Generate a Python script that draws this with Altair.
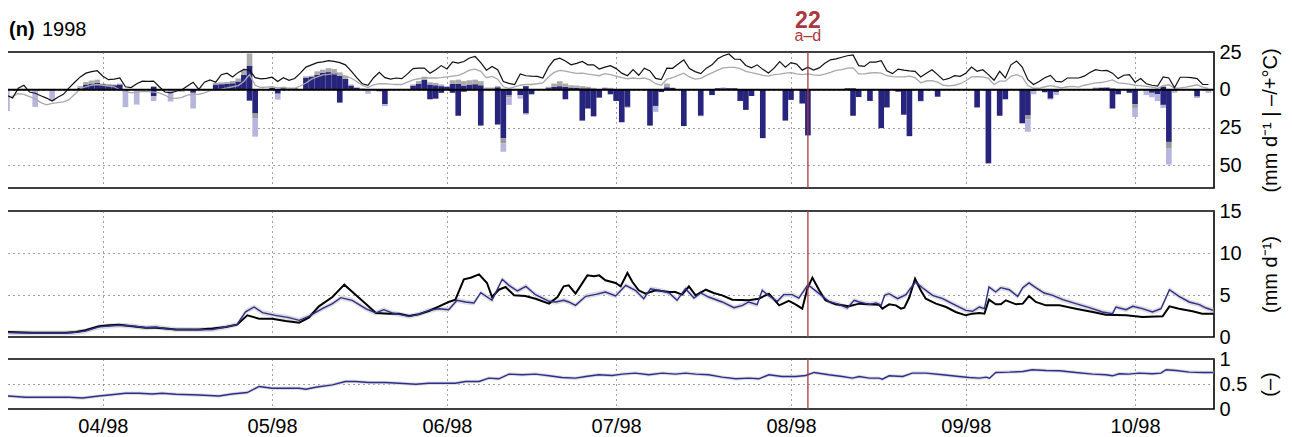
import altair as alt
import pandas as pd

FONT = "Liberation Sans"
N_DAYS = 214                      # day 0 = 15 Mar 1998
month_days = [17, 47, 78, 108, 139, 170, 200]
month_labels = ["04/98", "05/98", "06/98", "07/98", "08/98", "09/98", "10/98"]
marker_day = 142                  # 4 Aug 1998
marker_label = "22"
marker_sub = "a\u2013d"
panel_tag = "(n)"
panel_year = "1998"

# daily max / mean air temperature (deg C), days 0..213
tmax = [-3.7, -5.5, 1, 3, -1.5, -2.3, -4, -5.5, -7.4, -5, -3, 1.3, 5, 8.5, 11, 12, 12.6, 9, 6.7, 7,
        7.8, 2, 1.5, 4, 5.7, 5.5, 5.7, 2, -1.5, -2, -1, 0, 2.5, 5, 0.2, 5,
        6.5, 5, 10, 11, 8.5, 11.5, 13.5, 13, 8, 7.2, 7.5, 8.3, 5.5, 8, 6.2, 7.5, 11, 15, 16.5, 18,
        18.5, 19.3, 18.8, 18, 16.5, 12.5, 8, 4, 3, 8, 11.5, 8, 7, 7.8, 7.4, 10.5,
        14, 14.3, 14.3, 11, 13.3, 16, 13.8, 18.5, 17.6, 18.7, 21, 22, 18, 13, 15.4, 13.3, 5.5, 4.2,
        3.5, 10.5, 9.3, 9, 8.9, 7.8, 15, 19.8, 20.9, 19, 16.5, 17.5, 18.7, 16.5, 16.5, 13.7, 15, 15.9,
        14, 11, 9.3, 13.3, 9.6, 14.3, 12.5, 7.5, 6.7, 14.3, 14.2, 17, 19.8, 14.1, 12, 10.7, 14.3, 16.5,
        20.5, 22.5, 23.7, 20.2, 20.2, 16.1, 14.5, 16.5, 13.5, 11.1, 14.3, 18.7, 15, 18, 17, 13, 15, 13,
        14.5, 17.5, 19.8, 20.5, 21.5, 22.5, 23, 16, 15.5, 18.3, 18.3, 19.3, 12.5, 10.7, 13.7, 13, 12.5,
        12.2, 8.5, 11, 13.3, 10, 6.5, 7.5, 9.3, 8.9, 11, 15, 12.2, 13.3, 10, 6.3, 12.2, 7.8, 16.5, 19,
        15, 6.7, 3.5, 5.5, 8, 9.5, 5.6, 5.2, 7.8, 7.8, 7.8, 9, 11.5, 13.3, 12.6, 12.8, 11, 7.4, 9.6, 10,
        5, 7.4, 4, 3, 2.5, 8.5, 7.8, 1.3, 8.3, 8.3, 8, 7.4, 3.5, 3.5]
tmean = [-4.6, -4.2, -2.5, -3, -4.5, -6, -8.5, -10, -9, -8.5, -8, -6.5, -3, 0.7, 2, 3, 3.5, 3, 2.5, 2,
         0, -1, -2, -1.5, -1, -1.2, -1.5, -2, -3.5, -5.5, -5.7, -5, -3.5, -3, -3, -2,
         -0.5, 0, 0.5, 1.2, 2, 2.8, 5.5, 10, 3, 1.5, 1.8, 2, 1.2, 1.3, 1, 1, 2.5, 4.5, 7, 8.5,
         9.8, 10.2, 10.7, 10.2, 9, 7.8, 5.5, 3, 1.5, 3.3, 4, 4.1, 3.7, 3.5, 3.5, 5,
         6.5, 7.3, 7.8, 7.8, 7.8, 8, 8.5, 9, 9.5, 11, 13, 13.7, 12.2, 8, 8.9, 7, 2, 1, 2, 3,
         3.5, 3.5, 4, 4.6, 8.5, 11.5, 12.8, 12.3, 11.5, 10.8, 11, 10.3, 9.8, 9.3, 10.7, 10,
         9, 8, 7.3, 7.8, 7.4, 7.8, 6.5, 4, 3, 7, 8, 9.5, 11, 8.5, 7, 7.5, 9.5, 11.2, 13, 14.5,
         14.8, 14.8, 14, 12.2, 11.3, 10.5, 9.5, 9, 10, 10.3, 11, 11.3, 10.5, 10, 10.5, 9.8,
         9.5, 10.4, 11.5, 12.8, 13.3, 14.3, 14.5, 10.5, 10.5, 11.1, 11.3, 11, 9.3, 8.7, 8.5, 8.5, 9, 8,
         4.6, 5.8, 6, 5, 3, 2.6, 3, 4, 6, 8.5, 8.7, 8.5, 7.5, 3.5, 5.7, 5.7, 8.9, 10,
         8.5, 2.8, 1, 1, 2, 2.8, 2, 1.3, 2, 2.2, 1.7, 3, 3.8, 4.6, 4.8, 5.5, 6.5, 4.6, 4.3, 3.7,
         3, 2.8, 2.3, 1.8, 1, 2.8, 3.3, 0.9, 1.2, 1.8, 2.5, 3.3, 1.8, 1]

# daily bars (mm/d): upward stack (navy + grey), downward stack (navy, grey, lavender)
bar_day =   [0, 5, 8, 13, 14, 15, 16, 17, 18, 19, 20, 21, 23, 26, 29, 31, 33, 37, 38, 39, 40, 41, 42, 43, 44,
             47, 48, 49, 50, 51, 53, 54, 55, 56, 57, 58, 59, 60, 61, 62, 63, 64, 66, 67,
             72, 73, 74, 75, 76, 77, 78, 79, 80, 81, 82, 83, 84, 85, 86, 87, 88, 89, 91, 92, 93,
             96, 97, 98, 99, 100, 101, 102, 103, 104, 105, 106, 107, 108, 109, 110, 114, 115, 116, 117, 118,
             120, 123, 125, 126, 127, 128, 129, 130, 131, 132, 134, 138, 139, 141, 142,
             149, 150, 151, 153, 155, 156, 158, 159, 160, 162, 165, 172, 174, 176, 177,
             180, 181, 182, 184, 185, 186, 193, 194, 195, 196, 197, 199, 200, 202, 203, 204, 205, 206, 207, 211, 213]
up_navy =   [0, 0, 0, 1.3, 3.5, 3.9, 4.6, 3.7, 3.0, 3.0, 3.5, 0, 0, 2, 0, 0, 0, 3.5, 3.7, 4, 4.3, 5.5, 10, 16, 0,
             1.3, 0, 1.5, 0.8, 1, 7.8, 8.5, 10, 11.1, 11.7, 11.1, 9.3, 7.2, 2.8, 1.3, 0.7, 0, 0, 0,
             2.8, 4.1, 6.7, 3.5, 3, 2.4, 2, 3.9, 4.1, 2.8, 3.5, 3.7, 3, 0.5, 0.5, 1.7, 0, 0, 0, 2.4, 0,
             1.1, 2, 2.4, 2, 1.5, 1.3, 1, 1, 0, 0, 1, 0, 0, 0, 0, 0, 0, 0, 1.7, 1.3,
             0, 0, 0, 1, 1, 1, 1, 0, 0, 0, 0, 0, 0, 0, 0,
             1, 1, 0, 0, 0, 0, 0, 0, 0, 0, 0, 0, 0, 0, 0,
             0, 0, 0, 0, 0, 0, 1, 1.2, 1.5, 0.8, 0, 0, 0, 0, 0, 0, 2, 0, 0, 0, 0]
up_grey =   [0, 0, 0, 1.1, 1.7, 2.2, 2.1, 0.4, 0.9, 0.5, 0.6, 0, 0, 0.5, 0, 0, 0, 1, 1.2, 1.2, 1.5, 2, 3, 8, 0,
             0, 0, 0.5, 0, 0, 1.1, 0.8, 2.2, 2.2, 2.6, 2.6, 2.2, 2.1, 0.7, 0.4, 0, 0, 0, 0,
             0.7, 1.6, 2, 1.5, 1.6, 1.1, 0.4, 2.4, 2.6, 2.9, 2.8, 3, 2.7, 1, 1, 0.7, 0, 0, 0, 0, 0,
             0.9, 2.1, 3.3, 2.1, 1.5, 1.5, 1.4, 1, 1.3, 0, 0.5, 1.3, 0, 0, 0, 0, 0, 0, 2.4, 0,
             0, 0, 0, 0, 0.5, 0, 0, 0, 0, 0, 0, 0, 0, 0, 0,
             0, 0, 0, 0, 0, 0, 0, 0, 0, 0, 0, 0, 0, 0, 0,
             0, 0, 0, 0, 0, 0, 0.5, 0.5, 0.3, 0, 0, 0, 0, 0, 0, 0, 0.5, 0, 0, 0, 0]
rain_navy = [0, 0, 0, 0, 0, 0, 0, 0, 0, 0, 0, 1, 0, 4.1, 0, 0, 2, 0, 0, 0, 0, 0, 0, 7.2, 15.7,
             0, 2.6, 0, 0, 0, 0, 0, 0, 0, 0, 0, 8.5, 0, 0, 0, 0, 0, 1, 9.5,
             0, 0, 0, 6.3, 5.9, 2, 0, 2, 17.2, 1.3, 0, 0, 23.7, 0, 0, 23, 32, 3.5, 3.7, 15.7, 3,
             0, 0, 0, 6.3, 0, 0, 20.4, 12.4, 17.6, 5.2, 0, 3, 7.4, 21.5, 11.3, 23.7, 10.7, 1.5, 0, 0,
             24, 17.2, 3.5, 0, 0, 0, 0, 7.4, 13.3, 4.1, 32, 20.4, 6.7, 9.1, 30.2,
             0, 17.2, 4.8, 7.4, 25.4, 11.7, 1.3, 16.5, 30.7, 7.4, 4.6, 11.7, 48.7, 17.2, 6.3,
             22.2, 17, 1, 1.5, 5.9, 1.5, 0, 0, 0, 12.4, 3, 2, 9.5, 0.5, 2, 3, 10, 34.5, 1, 4.5, 0]
rain_grey = [0, 0, 0, 0, 0, 0, 0, 0, 0, 0, 0, 0, 0, 0, 0, 0, 0, 0, 0, 0, 0, 0, 0, 0, 3,
             0, 0, 0, 0, 0, 0, 0, 0, 0, 0, 0, 0, 0, 0, 0, 0, 0, 0, 0,
             0, 0, 0, 0, 0, 0, 0, 0, 0, 0, 0, 0, 0, 0, 0, 0, 3.5, 1.5, 0, 0, 0,
             0, 0, 0, 0, 0, 0, 0, 0, 0, 0, 0, 0, 0, 0, 0, 0, 0, 0, 0, 0,
             0, 0, 0, 0, 0, 0, 0, 0, 0, 0, 0, 0, 0, 0, 0,
             0, 0, 0, 0, 0, 0, 0, 0, 0, 0, 0, 0, 0, 0, 0,
             0, 2.5, 0, 0, 0, 0, 0, 0, 0, 0, 0, 0, 2.5, 0, 0, 0, 0, 4, 0, 0, 0]
rain_lav =  [14, 11.3, 7.4, 0, 0, 0, 0, 0, 0, 0, 0, 10.5, 9.8, 3.3, 7.8, 1.5, 10.4, 0, 0, 0, 0, 0, 0, 0, 12.3,
             0, 3.9, 0, 0, 0, 0, 0, 0, 0, 0, 0, 0, 0, 0, 0, 0, 2.6, 0, 1.3,
             0, 0, 0, 0, 0, 0, 0, 0, 0, 0, 0, 0, 0, 0, 0, 0, 5.5, 5, 2.2, 0.8, 0,
             0, 0, 0, 0, 0, 0, 0, 0, 0, 0, 0, 0, 0, 0, 0.7, 0, 3.9, 0, 0, 0,
             0, 0.4, 0, 0, 0, 0, 0, 0, 0, 0, 0, 0, 0, 0, 0,
             0, 0, 0, 0, 0, 0, 0, 0, 0, 0.4, 0, 0, 0, 0, 0,
             0, 8.3, 2, 0.5, 0.6, 2, 0, 0, 0.5, 0, 0, 0, 6, 3, 3, 4.5, 2, 11, 1, 1, 2]

# discharge (mm/d): observed and simulated
qobs_day = [0, 4.5, 10.4, 12.2, 13.9, 16.3, 18.1, 19.9, 22.2, 24.6, 26.4, 28.1, 29.9, 34, 36.4, 38.8, 40.8,
            42.6, 44.7, 47, 49.4, 51.8, 53.5, 55.3, 57.7, 59.8, 61.8, 63.6, 65.4, 67.7, 69.5, 71.3, 73,
            74.8, 76.6, 78.3, 79.5, 81, 82.2, 83.7, 85.1, 86, 87.2, 88.4, 89.9, 91.9, 93.7, 96.1, 97.6,
            98.7, 99.6, 100.8, 102.9, 104.1, 105, 106.1, 107.9, 108.8, 110, 110.9, 112, 113.2, 115, 117.4,
            118.5, 119.7, 120.9, 122.1, 123.9, 125.3, 126.8, 128.6, 131.5, 133.3, 135.1, 136.9, 138.6,
            139.8, 141, 141.9, 142.8, 144, 145.1, 146.9, 149.3, 151.1, 152.9, 154.6, 155.2, 156.4, 157.6,
            158.5, 159.1, 160, 161, 162, 162.9, 164.7, 166.5, 168.2, 170, 171.2, 172.4, 173.3, 174.1,
            175.3, 176.2, 177.1, 178.9, 180.1, 181.2, 182.4, 184.2, 186.6, 189.5, 192.5, 194.8, 198.4,
            201.3, 204.9, 206.1, 207.8, 210.2, 211.9, 213.9]
qobs = [0.6, 0.5, 0.5, 0.6, 0.8, 1.27, 1.39, 1.47, 1.27, 1.11, 1.11, 1.0, 0.9, 0.9, 1.0, 1.19, 1.47,
        2.58, 2.18, 2.18, 1.9, 1.7, 2.3, 3.65, 4.76, 6.23, 5.04, 3.97, 2.86, 2.78, 2.78, 2.5, 2.7,
        3.1, 3.65, 4.17, 4.44, 6.87, 7.06, 7.46, 6.43, 4.76, 5.63, 5.95, 4.96, 4.88, 4.56, 3.97, 4.76,
        6.03, 6.15, 5.16, 7.34, 7.22, 7.34, 6.75, 6.43, 6.03, 7.62, 6.55, 5.56, 5.16, 5.56, 5.36,
        5.36, 5.04, 6.03, 4.96, 5.63, 5.24, 4.96, 4.44, 4.37, 4.56, 5.16, 3.77, 4.29,
        3.89, 3.37, 5.75, 7.06, 5.56, 4.37, 3.89, 3.65, 3.97, 3.89, 3.85, 3.37, 3.89, 3.77,
        3.37, 3.49, 4.76, 6.94, 5.56, 4.56, 3.97, 3.57, 2.98, 2.58, 2.78, 2.86, 2.78, 4.44,
        3.89, 3.89, 4.37, 3.89, 3.97, 4.88, 4.17, 3.77, 3.77, 3.37, 2.98, 2.66, 2.58,
        2.38, 2.46, 3.65, 3.37, 3.06, 2.78, 2.78]
qsim_day = [0, 4.5, 10.4, 12.2, 13.9, 16.3, 18.1, 19.9, 22.2, 24.6, 26.4, 28.1, 29.9, 34, 36.4, 38.8, 40.8,
            42.3, 43.8, 45.3, 47.6, 50, 51.8, 53.5, 55.9, 57.7, 59.2, 61.2, 63.6, 65.4, 66.8, 68.3, 71.3, 73,
            74.8, 76.6, 78.3, 79.8, 81.3, 82.8, 84, 86, 87.8, 89, 90.5, 92, 93.7, 96.1, 97.3, 98.7, 99.6,
            100.8, 102.6, 104.4, 106.1, 107.9, 109.7, 111.4, 112.9, 114.1, 116.2, 117.4, 118.8, 120.3,
            121.8, 123, 124.4, 126.8, 128.9, 130.4, 131.5, 133, 133.9, 135.1, 136.6, 137.7, 139.2, 140.4,
            142, 144, 145.7, 147.5, 149, 150.2, 151.1, 152.9, 154.1, 155.0, 155.6, 156.4, 157.9, 159.4,
            160, 161.1, 162.3, 164.1, 165.9, 167.6, 170, 171.2, 172.4, 173.3, 174.1, 175.3, 176.2, 177.7,
            179.2, 180.1, 181.2, 182.4, 183.9, 185.4, 187.2, 189.5, 191.9, 194.2, 196, 196.6, 198.4,
            199.6, 201.3, 203.1, 204.6, 206.1, 207.8, 209.6, 211.4, 212.6, 213.9]
qsim = [0.52, 0.48, 0.48, 0.55, 0.72, 1.2, 1.31, 1.39, 1.31, 1.11, 1.19, 1.0, 0.9, 0.87, 0.9, 1.19, 1.51,
        3.0, 3.57, 2.9, 2.58, 2.3, 1.98, 2.46, 3.37, 3.97, 4.68, 4.37, 3.37, 2.86, 3.25, 2.86, 2.46, 2.7,
        3.17, 3.37, 3.25, 4.37, 4.17, 4.05, 5.28, 4.37, 6.87, 6.15, 5.48, 6.03, 5.04, 4.25, 4.17, 4.37, 4.17,
        3.77, 4.84, 5.08, 5.36, 4.88, 6.15, 5.56, 4.56, 5.75, 5.48, 5.24, 4.37, 5.75,
        4.64, 5.24, 4.76, 4.17, 3.49, 3.77, 4.17, 3.85, 5.56, 4.88, 4.25, 5.04, 5.04, 4.64,
        6.23, 5.16, 4.25, 3.89, 3.45, 4.37, 4.17, 3.89, 4.05, 3.77, 4.96, 5.16, 4.56, 5.04,
        5.63, 6.55, 5.87, 4.96, 4.56, 3.97, 3.17, 3.06, 3.57, 3.37, 5.95, 5.36, 5.87, 5.63,
        4.84, 5.87, 6.43, 5.87, 5.24, 4.96, 4.44, 3.97, 3.49, 2.98, 2.78, 3.57, 3.25,
        3.65, 3.37, 2.98, 3.37, 5.63, 4.84, 4.17, 3.85, 3.45, 3.17]
q_band = 0.3

# simulated relative soil moisture (-)
sm_day = [0, 3.3, 7.4, 11, 13.4, 16.3, 18.1, 21, 23.4, 25.8, 27.5, 29.9, 34, 37.6, 39.9, 42.6, 44.7, 47,
          49.4, 51.8, 53, 54.7, 57.7, 60, 61.8, 64.2, 67.1, 69.5, 72.5, 74.8, 77.2, 79.5, 81.3, 83.7, 85.4,
          87.2, 89, 91.4, 93.7, 96.1, 98.4, 100.8, 102.6, 104.9, 107.3, 109.1, 111.4, 113.8, 116.2, 118.5,
          120.3, 122.1, 124.4, 126.8, 129.2, 131.5, 133.3, 135.1, 137.4, 139.8, 141.6, 143.1, 145.7, 148.1,
          149.9, 151.1, 152.9, 154.6, 155.2, 156.4, 158.8, 160.5, 162.9, 165.9, 168.8, 170.6, 172.4, 173.6,
          174.2, 175.3, 177.7, 180.1, 181.8, 184.2, 186.6, 189.5, 192.5, 194.8, 196, 197.2, 198.9, 200.7,
          203.1, 204.6, 205.5, 207.3, 209.6, 212, 213.9]
sm = [0.26, 0.235, 0.235, 0.235, 0.22, 0.26, 0.28, 0.315, 0.315, 0.30, 0.315, 0.295, 0.28, 0.26, 0.30, 0.33,
      0.45, 0.416, 0.416, 0.416, 0.396, 0.436, 0.483, 0.55, 0.55, 0.53, 0.53, 0.516, 0.496, 0.516, 0.516,
      0.516, 0.55, 0.55, 0.617, 0.604, 0.698, 0.684, 0.698, 0.664, 0.63, 0.617, 0.65, 0.684, 0.67, 0.698,
      0.718, 0.684, 0.718, 0.698, 0.718, 0.698, 0.684, 0.637, 0.604, 0.617, 0.604, 0.684, 0.65, 0.65, 0.67,
      0.731, 0.684, 0.65, 0.617, 0.65, 0.617, 0.617, 0.597, 0.664, 0.65, 0.718, 0.718, 0.684, 0.65, 0.63,
      0.617, 0.637, 0.617, 0.731, 0.738, 0.751, 0.785, 0.771, 0.765, 0.731, 0.698, 0.684, 0.664, 0.704,
      0.698, 0.718, 0.704, 0.718, 0.785, 0.771, 0.738, 0.731, 0.731]
sm_band = 0.035

NAVY = "#27247d"
BLUE = "#2f2e8e"
RED = "#a83a3f"
W = 1207

# ---------- data frames ----------
temp_df = pd.DataFrame({"day": list(range(N_DAYS)), "Tmax": tmax, "Tmean": tmean})

rows = []
for d, un, ug, rn, rg, rl in zip(bar_day, up_navy, up_grey, rain_navy, rain_grey, rain_lav):
    if un:
        rows.append((d, 0, un, "up_navy"))
    if ug:
        rows.append((d, un, un + ug, "up_grey"))
    if rn:
        rows.append((d, -rn, 0, "rain_navy"))
    if rg:
        rows.append((d, -(rn + rg), -rn, "rain_grey"))
    if rl:
        rows.append((d, -(rn + rg + rl), -(rn + rg), "rain_lav"))
bars_df = pd.DataFrame(rows, columns=["day", "lo", "hi", "kind"])
bars_df["x0"] = (bars_df["day"] - 0.5).clip(lower=0)
bars_df["x1"] = (bars_df["day"] + 0.5).clip(upper=N_DAYS)

qobs_df = pd.DataFrame({"day": qobs_day, "q": qobs})
qsim_df = pd.DataFrame({"day": qsim_day, "q": qsim})
qsim_df["lo"] = qsim_df["q"] - q_band
qsim_df["hi"] = qsim_df["q"] + q_band
sm_df = pd.DataFrame({"day": sm_day, "s": sm})
sm_df["lo"] = sm_df["s"] - sm_band
sm_df["hi"] = sm_df["s"] + sm_band
marker_df = pd.DataFrame({"day": [marker_day]})
zero_df = pd.DataFrame({"y": [0]})

xscale = alt.Scale(domain=[0, N_DAYS], nice=False, zero=False)
label_expr = "".join(f"datum.value=={d}?'{l}':" for d, l in zip(month_days, month_labels)) + "''"

GRID = dict(gridDash=[1, 4], gridColor="#444", gridWidth=1)
grid_x = alt.Axis(values=month_days, labels=False, ticks=False, domain=False, grid=True,
                  title=None, **GRID)
bottom_x = alt.Axis(values=month_days, labelExpr=label_expr, ticks=False, domain=False, grid=True,
                    title=None, labelFontSize=20, labelFont=FONT, labelColor="black",
                    labelPadding=7, labelFlush=False, labelOverlap=False, **GRID)


def yaxis(values, title, pad, expr):
    return alt.Axis(orient="right", values=values, ticks=False, domain=False, grid=True,
                    labelFontSize=20, labelFont=FONT, labelColor="black", labelPadding=5,
                    labelOverlap=False, labelFlush=False, labelExpr=expr,
                    title=title, titleAngle=270, titleBaseline="top", titleFontSize=20,
                    titleFont=FONT, titleFontWeight="normal", titleColor="black",
                    titlePadding=pad, **GRID)


# ---------- top panel ----------
ytop = alt.Scale(domain=[-65, 25], nice=False, zero=False)
ax_top = yaxis([25, 0, -25, -50], "(mm d\u207b\u00b9 | \u2013/+\u00b0C)", 19, "'' + abs(datum.value)")
X_top = lambda f: alt.X(f, scale=xscale, axis=grid_x)
Y_top = lambda f: alt.Y(f, scale=ytop, axis=ax_top)

bars = alt.Chart(bars_df).mark_bar(clip=True).encode(
    x=X_top("x0:Q"), x2="x1:Q", y=Y_top("lo:Q"), y2="hi:Q",
    color=alt.Color("kind:N", legend=None,
                    scale=alt.Scale(domain=["up_navy", "up_grey", "rain_navy", "rain_grey", "rain_lav"],
                                    range=[NAVY, "#ababab", NAVY, "#9a9a9a", "#b5b5dd"])))
tmean_line = alt.Chart(temp_df).mark_line(color="#a9a9a9", strokeWidth=1.3, clip=True).encode(
    x=X_top("day:Q"), y=Y_top("Tmean:Q"))
tmax_line = alt.Chart(temp_df).mark_line(color="#111111", strokeWidth=1.2, clip=True).encode(
    x=X_top("day:Q"), y=Y_top("Tmax:Q"))
zero_line = alt.Chart(zero_df).mark_rule(color="black", strokeWidth=2, clip=True).encode(y=Y_top("y:Q"))
red_top = alt.Chart(marker_df).mark_rule(color=RED, strokeWidth=1.3).encode(x=X_top("day:Q"))

one = alt.Data(values=[{"a": 1}])
tag = alt.Chart(one).mark_text(text=panel_tag, font=FONT, fontSize=20, fontWeight="bold",
                               align="left", baseline="alphabetic", color="black").encode(
    x=alt.value(2), y=alt.value(-16.5))
year = alt.Chart(one).mark_text(text=panel_year, font=FONT, fontSize=20, align="left",
                                baseline="alphabetic", color="black").encode(
    x=alt.value(35), y=alt.value(-16.5))
m_lab = alt.Chart(marker_df).mark_text(text=marker_label, font=FONT, fontSize=23, fontWeight="bold",
                                       align="center", baseline="alphabetic", color=RED).encode(
    x=X_top("day:Q"), y=alt.value(-24.5))
m_sub = alt.Chart(marker_df).mark_text(text=marker_sub, font=FONT, fontSize=16,
                                       align="center", baseline="alphabetic", color=RED).encode(
    x=X_top("day:Q"), y=alt.value(-11))

top = alt.layer(bars, tmean_line, tmax_line, zero_line, red_top, tag, year, m_lab, m_sub).properties(
    width=W, height=136)

# ---------- middle panel ----------
ymid = alt.Scale(domain=[0, 15], nice=False, zero=False)
ax_mid = yaxis([0, 5, 10, 15], "(mm d\u207b\u00b9)", 19, "format(datum.value, '~g')")
X_mid = lambda f: alt.X(f, scale=xscale, axis=grid_x)
Y_mid = lambda f: alt.Y(f, scale=ymid, axis=ax_mid)
band = alt.Chart(qsim_df).mark_area(color="#dcdcdc", clip=True).encode(
    x=X_mid("day:Q"), y=Y_mid("lo:Q"), y2="hi:Q")
obs = alt.Chart(qobs_df).mark_line(color="black", strokeWidth=2, clip=True).encode(
    x=X_mid("day:Q"), y=Y_mid("q:Q"))
sim = alt.Chart(qsim_df).mark_line(color=BLUE, strokeWidth=1.4, clip=True).encode(
    x=X_mid("day:Q"), y=Y_mid("q:Q"))
red_mid = alt.Chart(marker_df).mark_rule(color=RED, strokeWidth=1.3).encode(x=X_mid("day:Q"))
middle = alt.layer(band, obs, sim, red_mid).properties(width=W, height=126)

# ---------- bottom panel ----------
ybot = alt.Scale(domain=[0, 1], nice=False, zero=False)
ax_bot = yaxis([0, 0.5, 1], "(\u2013)", 13, "format(datum.value, '~g')")
X_bot = lambda f: alt.X(f, scale=xscale, axis=bottom_x)
Y_bot = lambda f: alt.Y(f, scale=ybot, axis=ax_bot)
sband = alt.Chart(sm_df).mark_area(color="#dcdcdc", clip=True).encode(
    x=X_bot("day:Q"), y=Y_bot("lo:Q"), y2="hi:Q")
sline = alt.Chart(sm_df).mark_line(color=BLUE, strokeWidth=1.4, clip=True).encode(
    x=X_bot("day:Q"), y=Y_bot("s:Q"))
red_bot = alt.Chart(marker_df).mark_rule(color=RED, strokeWidth=1.3).encode(x=X_bot("day:Q"))
bottom = alt.layer(sband, sline, red_bot).properties(width=W, height=50)

chart = alt.vconcat(
    top, alt.vconcat(middle, bottom, spacing=22, bounds="flush"), spacing=23, bounds="flush"
).properties(
    padding={"top": 0, "left": -2, "right": 0, "bottom": 0}
).configure(font=FONT).configure_view(stroke="black", strokeWidth=1.6)

chart.save("out.html", embed_options={"renderer": "svg", "actions": False})
